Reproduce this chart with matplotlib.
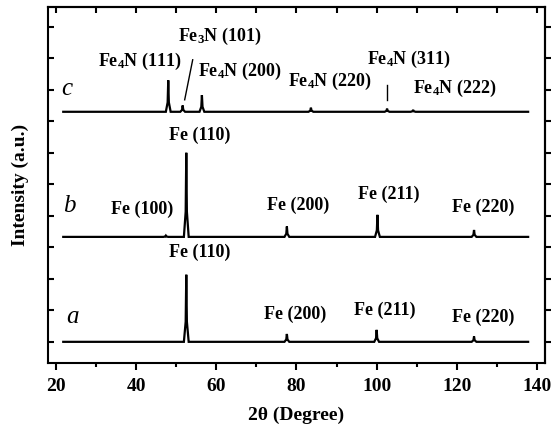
import matplotlib
matplotlib.use("Agg")
import matplotlib.pyplot as plt
from matplotlib.ticker import MultipleLocator

plt.rcParams['font.family'] = ['Liberation Serif', 'DejaVu Serif']
plt.rcParams['mathtext.fontset'] = 'custom'
plt.rcParams['mathtext.rm'] = 'Liberation Serif:bold'
plt.rcParams['mathtext.it'] = 'Liberation Serif:italic:bold'
plt.rcParams['mathtext.default'] = 'rm'

# scan range (2theta, degree)
scan_start, scan_end = 21.8, 137.8

# peaks: position, height (a.u.)
a_pos = [52.5, 77.6, 100.0, 124.3]
a_height = [2.13, 0.25, 0.38, 0.17]

b_pos = [47.4, 52.5, 77.6, 100.2, 124.3]
b_height = [0.04, 2.67, 0.33, 0.70, 0.22]

c_pos = [48.0, 51.6, 56.4, 83.6, 102.6, 109.1]
c_height = [1.00, 0.20, 0.53, 0.13, 0.10, 0.06]

# peak labels: text, x, y
a_labels = [('Fe (110)', 55.8, 2.84), ('Fe (200)', 79.6, 0.87),
            ('Fe (211)', 101.9, 1.00), ('Fe (220)', 126.7, 0.78)]
b_labels = [('Fe (110)', 55.8, 6.56), ('Fe (100)', 41.5, 4.21),
            ('Fe (200)', 80.4, 4.33), ('Fe (211)', 103.0, 4.68),
            ('Fe (220)', 126.7, 4.27)]
c_labels = [('Fe$_4$N (111)', 40.8, 8.89), ('Fe$_3$N (101)', 60.8, 9.68),
            ('Fe$_4$N (200)', 65.8, 8.57), ('Fe$_4$N (220)', 88.3, 8.25),
            ('Fe$_4$N (311)', 108.0, 8.95), ('Fe$_4$N (222)', 119.6, 8.03)]

# sample tags: name, baseline offset, tag x, tag y
samples = [('a', 0.0, 24.2, 0.78), ('b', 3.33, 23.4, 4.32), ('c', 7.30, 22.6, 8.03)]
peaks = {'a': (a_pos, a_height), 'b': (b_pos, b_height), 'c': (c_pos, c_height)}


def trace(pos, height, base, half=0.6):
    xs = [scan_start]
    ys = [base]
    for p, h in zip(pos, height):
        xs += [p - half, p - 0.15, p, p + 0.15, p + half]
        ys += [base, base + h * 0.3, base + h, base + h * 0.3, base]
    xs.append(scan_end)
    ys.append(base)
    return xs, ys


fig = plt.figure(figsize=(5.59, 4.28), dpi=100)
ax = fig.add_axes([0.0859, 0.152, 0.889, 0.832])

for name, base, tx, ty in samples:
    pos, height = peaks[name]
    xs, ys = trace(pos, height, base)
    ax.plot(xs, ys, color='black', lw=1.6, solid_joinstyle='miter')
    ax.text(tx, ty, name, ha='center', va='center', fontsize=18, style='italic')

for txt, x, y in a_labels + b_labels + c_labels:
    ax.text(x, y, txt, ha='center', va='center', fontsize=13,
            fontweight='bold')

# leader lines for the small nitride peaks
ax.plot([54.1, 52.1], [8.95, 7.68], color='black', lw=1.0)
ax.plot([102.6, 102.6], [8.16, 7.68], color='black', lw=1.0)

ax.set_xlim(18, 142)
ax.set_ylim(-0.67, 10.63)
ax.xaxis.set_major_locator(MultipleLocator(20))
ax.xaxis.set_minor_locator(MultipleLocator(10))
ax.yaxis.set_major_locator(MultipleLocator(1))
ax.set_yticklabels([])

ax.tick_params(axis='x', which='major', direction='out', length=5, width=1.5,
               labelsize=14, pad=6, top=False)
ax.tick_params(axis='x', which='minor', direction='out', length=3, width=1.5,
               top=False)
ax.tick_params(axis='y', which='major', direction='in', length=4, width=1.5,
               left=True, right=False)
for lab in ax.get_xticklabels():
    lab.set_fontweight('bold')

# top and right ticks (inward on top, outward on right)
top = ax.secondary_xaxis('top')
top.xaxis.set_major_locator(MultipleLocator(20))
top.xaxis.set_minor_locator(MultipleLocator(10))
top.tick_params(which='both', direction='in', length=4, width=1.5, labeltop=False)
right = ax.secondary_yaxis('right')
right.yaxis.set_major_locator(MultipleLocator(1))
right.tick_params(direction='out', length=4, width=1.5, labelright=False)
for sp in list(ax.spines.values()) + [top.spines['top'], right.spines['right']]:
    sp.set_linewidth(1.5)

ax.set_xlabel('2θ (Degree)', fontsize=14, fontweight='bold', labelpad=8)
ax.set_ylabel('Intensity (a.u.)', fontsize=14, fontweight='bold', labelpad=10)

fig.savefig('out.png', dpi=100)
